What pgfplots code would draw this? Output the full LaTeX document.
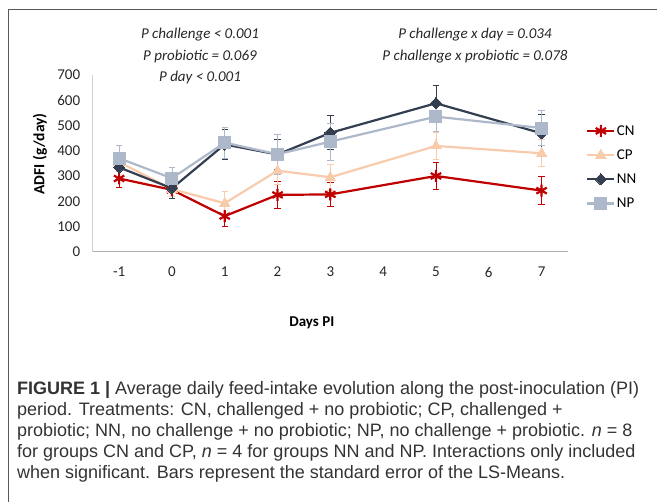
\documentclass[border=0pt]{standalone}
\usepackage{fontspec}
\setmainfont{Carlito}
\newfontfamily\capfont{Liberation Sans}
\usepackage{pgfplots}
\pgfplotsset{compat=1.18}
\definecolor{cCN}{HTML}{C00000}
\definecolor{cCP}{HTML}{F8CBAD}
\definecolor{cNN}{HTML}{333F50}
\definecolor{cNP}{HTML}{ADB9CA}
\pgfplotstableread{
x y e
-1 290 37
0 245 35
1 141 42
2 225 55
3 227 46
5 300 53
7 242 55
}\dataCN
\pgfplotstableread{
x y e
-1 355 38
0 248 30
1 192 46
2 321 53
3 295 51
5 419 54
7 390 53
}\dataCP
\pgfplotstableread{
x y e
-1 334 40
0 251 40
1 425 60
2 385 60
3 471 67
5 588 71
7 469 75
}\dataNN
\pgfplotstableread{
x y e
-1 370 53
0 291 43
1 432 62
2 386 80
3 436 73
5 535 60
7 490 69
}\dataNP
\begin{document}
\begin{tikzpicture}[x=1pt,y=1pt]
\useasboundingbox (0,0) rectangle (657,-502);
\draw[black!65, line width=0.9pt] (8,-502) -- (8,-9) -- (657,-9);
\begin{axis}[
  at={(92.7pt,-251.7pt)}, anchor=south west,
  scale only axis, width=475.3pt, height=176.7pt,
  xmin=-1.5, xmax=7.5, ymin=0, ymax=700,
  xtick={-1,0,...,7}, ytick={0,100,...,700},
  axis x line*=bottom, axis y line*=left,
  x axis line style={draw=black!30, line width=0.9pt},
  y axis line style={draw=black!18, line width=0.9pt},
  major tick length=0pt,
  /pgf/number format/assume math mode=true,
  tick label style={font=\fontsize{15}{18}\selectfont, text=black!85},
  yticklabel style={xshift=-9pt},
  xticklabel style={yshift=-12pt},
  xlabel={\textbf{Days PI}},
  xlabel style={at={(axis description cs:0.461,-0.4035)}, anchor=center, font=\fontsize{15}{18}\selectfont},
  ylabel={\textbf{ADFI (g/day)}},
  ylabel style={at={(axis description cs:-0.111,0.553)}, anchor=center, font=\fontsize{15.5}{18}\selectfont},
  legend style={at={(axis description cs:1.038,0.725)}, anchor=north west, draw=none, fill=none,
    font=\fontsize{15}{18}\selectfont, row sep=10pt, inner sep=0pt, nodes={inner sep=1.5pt}},
  legend cell align=left,
  legend image code/.code={\draw[mark repeat=2,mark phase=2] plot coordinates {(0pt,0pt) (13.5pt,0pt) (27pt,0pt)};},
  every axis plot/.append style={line width=2.2pt},
  error bars/error bar style={line width=0.8pt},
  error bars/error mark options={rotate=90, mark size=3.2pt, line width=0.8pt},
  clip=false,
]
\addplot[cCN, mark=asterisk, mark size=6pt, mark options={line width=2.2pt},
  error bars/.cd, y dir=both, y explicit] table[x=x, y=y, y error=e] {\dataCN};
\addlegendentry{CN}
\addplot[cCP, mark=triangle*, mark size=6pt, mark options={line width=0pt},
  error bars/.cd, y dir=both, y explicit] table[x=x, y=y, y error=e] {\dataCP};
\addlegendentry{CP}
\addplot[cNN, mark=square*, mark size=4pt, mark options={rotate=45, line width=0pt},
  error bars/.cd, y dir=both, y explicit] table[x=x, y=y, y error=e] {\dataNN};
\addlegendentry{NN}
\addplot[cNP, mark=square*, mark size=6pt, mark options={line width=0pt},
  error bars/.cd, y dir=both, y explicit] table[x=x, y=y, y error=e] {\dataNP};
\addlegendentry{NP}
\end{axis}
\begin{scope}[every node/.style={font=\fontsize{15}{18}\selectfont\itshape, text=black!85, anchor=base, inner sep=0pt}]
\node at (200,-39) {P challenge < 0.001};
\node at (200,-60.5) {P probiotic = 0.069};
\node at (200,-82) {P day < 0.001};
\node at (475,-39) {P challenge x day = 0.034};
\node at (475,-60.5) {P challenge x probiotic = 0.078};
\end{scope}
\begin{scope}[every node/.style={font=\capfont\fontsize{18}{21}\selectfont, text=black!80, anchor=base west, inner sep=0pt}]
\node at (17,-395) {\textbf{FIGURE 1} \textbf{|} Average daily feed-intake evolution along the post-inoculation (PI)};
\node at (17,-416) {period. Treatments: CN, challenged + no probiotic; CP, challenged +};
\node at (17,-437) {probiotic; NN, no challenge + no probiotic; NP, no challenge + probiotic. \textit{n} = 8};
\node at (17,-458) {for groups CN and CP, \textit{n} = 4 for groups NN and NP. Interactions only included};
\node at (17,-479) {when significant. Bars represent the standard error of the LS-Means.};
\end{scope}
\end{tikzpicture}
\end{document}
